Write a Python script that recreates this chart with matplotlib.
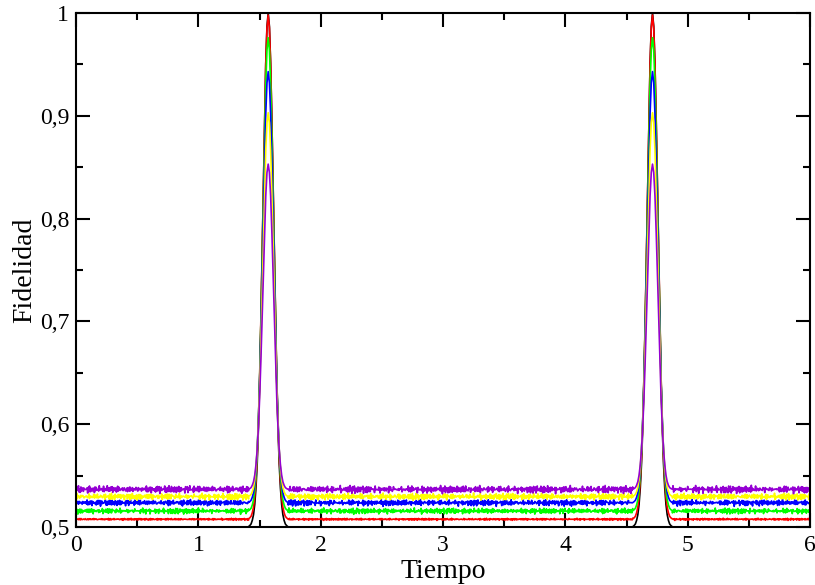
import numpy as np
import matplotlib
matplotlib.use("Agg")
import matplotlib.pyplot as plt
from matplotlib.ticker import MultipleLocator, FuncFormatter

# ---- data ----
series_colors = ["black", "red", "#00ff00", "blue", "yellow", "#9400d3"]
baselines = [0.500, 0.5075, 0.5155, 0.5235, 0.5295, 0.5365]
peak_values = [1.000, 0.998, 0.976, 0.943, 0.903, 0.853]
noise_amp = [0.0, 0.0012, 0.0035, 0.0038, 0.0040, 0.0046]
peak_centers = [1.5708, 4.7124]

# peak profile (normalised height vs. distance from centre)
profile_dt = [0.00, 0.01, 0.02, 0.03, 0.04, 0.05, 0.06, 0.07, 0.08,
              0.09, 0.10, 0.11, 0.12, 0.13, 0.14, 0.15, 0.16]
profile_g = [1.000, 0.974, 0.902, 0.792, 0.662, 0.524, 0.395, 0.282, 0.192,
             0.123, 0.076, 0.044, 0.024, 0.013, 0.006, 0.003, 0.001]

# baseline fluctuation patterns (hand-typed)
jitter_a = [0.3, -0.5, 0.8, -0.2, 0.1, -0.9, 0.6, 0.0, -0.4, 0.7, -0.7, 0.2, 0.9,
            -0.3, -0.6, 0.4, 0.1, -0.8, 0.5, -0.1, 0.6, -0.5, 0.3, 0.8, -0.9, 0.0,
            0.4, -0.2, -0.7, 0.9, -0.4, 0.2, 0.6, -0.6, 0.1, -0.3, 0.7]
jitter_b = [-0.2, 0.6, -0.7, 0.4, 0.0, 0.9, -0.5, 0.3, -0.9, 0.1, 0.5, -0.3, 0.8,
            -0.6, 0.2, -0.1, 0.7, -0.8, 0.4, 0.0, -0.4, 0.9, -0.2, 0.3, -0.7, 0.6,
            -0.5, 0.1, 0.8, -0.9, 0.2, -0.3, 0.5, -0.6, 0.7, 0.0, -0.1, 0.4, -0.8,
            0.3, 0.6]

x_ticks = [0, 1, 2, 3, 4, 5, 6]
y_ticks = [0.5, 0.6, 0.7, 0.8, 0.9, 1.0]

# ---- figure ----
plt.rcParams["font.family"] = ["Liberation Serif", "DejaVu Serif"]
fig = plt.figure(figsize=(8.15, 5.85), dpi=100)
ax = fig.add_axes([0.0933, 0.0991, 0.9006, 0.8787])

dtab = np.array(profile_dt)
gtab = np.array(profile_g)
half = dtab[-1]
step = 0.005
grid = np.round(np.arange(0.0, 6.0 + step / 2, step), 4)

for k, col in enumerate(series_colors):
    base = baselines[k]
    peak = peak_values[k]
    pts = []
    # baseline samples away from the peaks
    for i, xv in enumerate(grid):
        if min(abs(xv - c) for c in peak_centers) <= half + 1e-9:
            continue
        v = 0.5 * (jitter_a[(i + 7 * k) % len(jitter_a)] +
                   jitter_b[(i + 13 * k) % len(jitter_b)])
        pts.append((xv, base + noise_amp[k] * v))
    # peak profiles
    for c in peak_centers:
        for d, g in zip(dtab[::-1], gtab[::-1]):
            pts.append((c - d, base + (peak - base) * g))
        for d, g in zip(dtab[1:], gtab[1:]):
            pts.append((c + d, base + (peak - base) * g))
    pts.sort(key=lambda p: p[0])
    xs = [p[0] for p in pts]
    ys = [p[1] for p in pts]
    ax.plot(xs, ys, color=col, lw=1.2, zorder=2 + k)

ax.set_xlim(0, 6)
ax.set_ylim(0.5, 1.0)
ax.set_xticks(x_ticks)
ax.set_yticks(y_ticks)
ax.xaxis.set_minor_locator(MultipleLocator(0.5))
ax.yaxis.set_minor_locator(MultipleLocator(0.05))


def yfmt(v, pos):
    if abs(v - 1.0) < 1e-9:
        return "1"
    return ("%.1f" % v).replace(".", ",")


ax.yaxis.set_major_formatter(FuncFormatter(yfmt))
ax.xaxis.set_major_formatter(FuncFormatter(lambda v, p: "%d" % round(v)))

ax.tick_params(which="both", direction="in", top=True, right=True,
               width=1.5, labelsize=17)
ax.tick_params(which="major", length=10)
ax.tick_params(which="minor", length=5)
ax.tick_params(axis="x", pad=6)
ax.tick_params(axis="y", pad=5)
for s in ax.spines.values():
    s.set_linewidth(1.5)
    s.set_zorder(10)

ax.set_xlabel("Tiempo", fontsize=20, labelpad=2)
ax.set_ylabel("Fidelidad", fontsize=20, labelpad=2)

fig.savefig("out.png", dpi=100)
